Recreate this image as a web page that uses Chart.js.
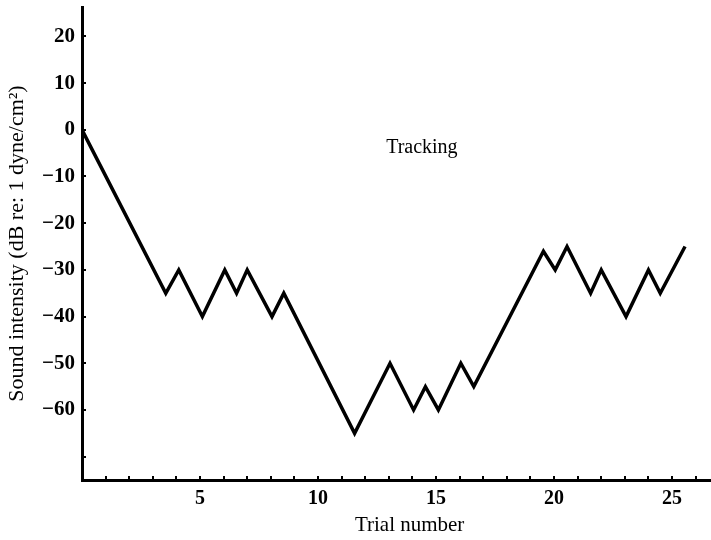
<!DOCTYPE html>
<html>
<head>
<meta charset="utf-8">
<script src="https://cdn.jsdelivr.net/npm/chart.js@4/dist/chart.umd.min.js"></script>
<style>
  html, body { margin: 0; padding: 0; background: #fff; }
  #wrap { width: 711px; height: 540px; }
</style>
</head>
<body>
<div id="wrap"><canvas id="trackChart"></canvas></div>
<script>
// trial number (x) and sound intensity in dB (y)
const trialX = [0, 3.55, 4.1, 5.1, 6.05, 6.55, 7.0, 8.05, 8.55, 11.55, 13.05, 14.05, 14.55,
                15.1, 16.05, 16.6, 19.55, 20.05, 20.55, 21.55, 22.0, 23.05, 24.0, 24.5, 25.55];
const intensity = [0, -35, -30, -40, -30, -35, -30, -40, -35, -65, -50, -60, -55,
                   -60, -50, -55, -26, -30, -25, -35, -30, -40, -30, -35, -25];
const xTicks = [0,1,2,3,4,5,6,7,8,9,10,11,12,13,14,15,16,17,18,19,20,21,22,23,24,25,26];
const xLabels = [5, 10, 15, 20, 25];
const yTicks = [20, 10, 0, -10, -20, -30, -40, -50, -60, -70];
const yLabels = [20, 10, 0, -10, -20, -30, -40, -50, -60];
const noteText = "Tracking";

const serif = "'Liberation Serif', 'DejaVu Serif', serif";

function fmt(v) {
    return v < 0 ? "\u2212" + Math.abs(v) : String(v);
}

// "Tracking" caption placed with the chart's own scales
const notePlugin = {
    id: "note",
    afterDatasetsDraw(chart) {
        const c = chart.ctx;
        const x = chart.scales.x.getPixelForValue(14.4);
        const y = chart.scales.y.getPixelForValue(-3.8);
        c.save();
        c.font = "20px " + serif;
        c.fillStyle = "#000";
        c.textAlign = "center";
        c.textBaseline = "middle";
        c.fillText(noteText, x, y);
        c.restore();
    }
};

const ctx = document.getElementById("trackChart").getContext("2d");
new Chart(ctx, {
    type: "line",
    data: {
        datasets: [{
            data: trialX.map((t, i) => ({ x: t, y: intensity[i] })),
            borderColor: "#000",
            borderWidth: 3.5,
            borderJoinStyle: "miter",
            pointRadius: 0,
            tension: 0,
            fill: false
        }]
    },
    options: {
        responsive: true,
        maintainAspectRatio: false,
        animation: false,
        layout: { padding: { top: 7, left: 0, right: 0, bottom: 0 } },
        plugins: { legend: { display: false }, tooltip: { enabled: false } },
        scales: {
            x: {
                type: "linear",
                min: 0,
                max: 26.65,
                afterBuildTicks: s => { s.ticks = xTicks.map(v => ({ value: v })); },
                afterFit: s => { s.height = 60; s.paddingLeft = 0; s.paddingRight = 0; },
                border: { color: "#000", width: 3 },
                grid: { drawOnChartArea: false, tickLength: -4, color: "#000", lineWidth: 2 },
                ticks: {
                    padding: 11,
                    maxRotation: 0,
                    autoSkip: false,
                    color: "#000",
                    font: { family: serif, size: 20, weight: "bold" },
                    callback: v => xLabels.includes(v) ? String(v) : ""
                },
                title: {
                    display: true,
                    text: "\u00A0\u00A0\u00A0\u00A0\u00A0Trial number",
                    color: "#000",
                    font: { family: serif, size: 21 },
                    padding: { top: 0, bottom: 2 }
                }
            },
            y: {
                min: -75,
                max: 26.3,
                afterBuildTicks: s => { s.ticks = yTicks.map(v => ({ value: v })); },
                afterFit: s => { s.width = 82; s.paddingTop = 0; s.paddingBottom = 0; },
                border: { color: "#000", width: 3 },
                grid: { drawOnChartArea: false, tickLength: -4, color: "#000", lineWidth: 2 },
                ticks: {
                    padding: 11,
                    autoSkip: false,
                    color: "#000",
                    font: { family: serif, size: 21, weight: "bold" },
                    callback: v => yLabels.includes(v) ? fmt(v) : ""
                },
                title: {
                    display: true,
                    text: "Sound intensity (dB re: 1 dyne/cm\u00B2)",
                    color: "#000",
                    font: { family: serif, size: 22 },
                    padding: { top: 4, bottom: 0 }
                }
            }
        }
    },
    plugins: [notePlugin]
});
</script>
</body>
</html>
